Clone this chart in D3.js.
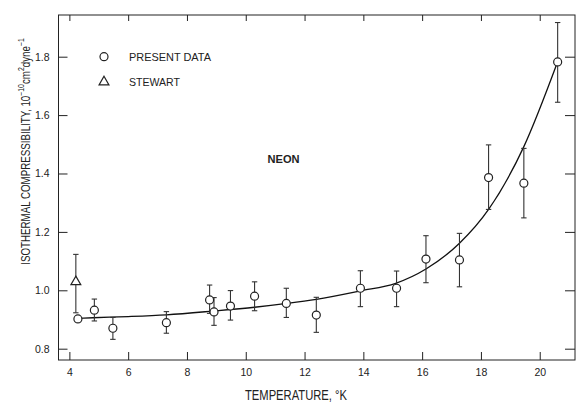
<!DOCTYPE html>
<html>
<head>
<meta charset="utf-8">
<script src="https://cdn.jsdelivr.net/npm/d3@7"></script>
<style>
  body { margin: 0; background: #fff; }
  svg { display: block; font-family: "Liberation Sans", Arial, sans-serif; }
  .axis text { font-size: 10.5px; fill: #222; }
  .axis line { stroke: #222; stroke-width: 1; }
</style>
</head>
<body>
<svg></svg>
<script>
// present data
let temps = [4.29, 4.85, 5.48, 7.30, 8.77, 8.92, 9.48, 10.30, 11.38, 12.40, 13.90, 15.13, 16.13, 17.27, 18.26, 19.46, 20.61];
let comp = [0.902, 0.932, 0.870, 0.889, 0.967, 0.926, 0.946, 0.980, 0.955, 0.915, 1.007, 1.007, 1.107, 1.104, 1.386, 1.367, 1.782];
let errLow = [null, 0.895, 0.832, 0.853, 0.921, 0.880, 0.898, 0.930, 0.907, 0.856, 0.944, 0.944, 1.026, 1.012, 1.277, 1.248, 1.644];
let errHigh = [null, 0.970, 0.907, 0.927, 1.018, 0.975, 0.999, 1.029, 1.007, 0.976, 1.067, 1.066, 1.187, 1.195, 1.498, 1.486, 1.917];

// stewart point
let stewartT = [4.22];
let stewartK = [1.029];
let stewartLow = [0.923];
let stewartHigh = [1.123];

// smooth curve through the data
let curveT = [4.29, 4.8, 6.0, 7.3, 8.9, 10.3, 11.4, 12.4, 13.9, 15.1, 16.13, 17.27, 18.26, 19.46, 20.6];
let curveK = [0.904, 0.906, 0.910, 0.916, 0.929, 0.942, 0.955, 0.969, 0.998, 1.024, 1.073, 1.161, 1.277, 1.492, 1.780];

let xTicks = [4, 6, 8, 10, 12, 14, 16, 18, 20];
let yTicks = [0.8, 1.0, 1.2, 1.4, 1.6, 1.8];

let config = { 'svg': {}, 'plot': {} };
config.svg.width = 576;
config.svg.height = 402;
config.plot.left = 58.5;
config.plot.right = 575;
config.plot.top = 15;
config.plot.bottom = 360;

let svg = d3.select('body').select('svg')
  .attr('width', config.svg.width)
  .attr('height', config.svg.height);

let x = d3.scaleLinear().domain([3.63, 21.2]).range([config.plot.left, config.plot.right]);
let y = d3.scaleLinear().domain([0.7613, 1.9428]).range([config.plot.bottom, config.plot.top]);

// axes, ticks pointing inward
let gx = svg.append('g').attr('class', 'axis')
  .attr('transform', translate(0, config.plot.bottom))
  .call(d3.axisBottom(x).tickValues(xTicks).tickSize(-8).tickPadding(8.5).tickFormat(d3.format('d')));
let gxTop = svg.append('g').attr('class', 'axis')
  .attr('transform', translate(0, config.plot.top))
  .call(d3.axisTop(x).tickValues(xTicks).tickSize(-6).tickFormat(''));
let gy = svg.append('g').attr('class', 'axis')
  .attr('transform', translate(config.plot.left, 0))
  .call(d3.axisLeft(y).tickValues(yTicks).tickSize(-9).tickPadding(9).tickFormat(d3.format('.1f')));
let gyRight = svg.append('g').attr('class', 'axis')
  .attr('transform', translate(config.plot.right, 0))
  .call(d3.axisRight(y).tickValues(yTicks).tickSize(-10).tickFormat(''));
svg.selectAll('.axis .domain').remove();

// frame
svg.append('rect')
  .attr('x', config.plot.left)
  .attr('y', config.plot.top)
  .attr('width', config.plot.right - config.plot.left)
  .attr('height', config.plot.bottom - config.plot.top)
  .attr('fill', 'none')
  .attr('stroke', '#222')
  .attr('stroke-width', 1);

// fitted curve
let curveData = curveT.map((t, i) => [t, curveK[i]]);
svg.append('path')
  .datum(curveData)
  .attr('fill', 'none')
  .attr('stroke', '#111')
  .attr('stroke-width', 1.3)
  .attr('d', d3.line()
    .x(d => x(d[0]))
    .y(d => y(d[1]))
    .curve(d3.curveMonotoneX));

// error bars
function drawErr(g, t, lo, hi) {
  g.append('line').attr('x1', x(t)).attr('x2', x(t)).attr('y1', y(lo)).attr('y2', y(hi));
  g.append('line').attr('x1', x(t) - 2.7).attr('x2', x(t) + 2.7).attr('y1', y(lo)).attr('y2', y(lo));
  g.append('line').attr('x1', x(t) - 2.7).attr('x2', x(t) + 2.7).attr('y1', y(hi)).attr('y2', y(hi));
}
let gErr = svg.append('g').attr('stroke', '#333').attr('stroke-width', 1.1);
temps.forEach(function(t, i) {
  if (errLow[i] != null) drawErr(gErr, t, errLow[i], errHigh[i]);
});
stewartT.forEach(function(t, i) {
  drawErr(gErr, t, stewartLow[i], stewartHigh[i]);
});

// present data circles
svg.append('g')
  .selectAll('circle')
  .data(temps)
  .enter()
  .append('circle')
    .attr('cx', d => x(d))
    .attr('cy', (d, i) => y(comp[i]))
    .attr('r', 4)
    .attr('fill', '#fff')
    .attr('stroke', '#222')
    .attr('stroke-width', 1.2);

// stewart triangle
let tri = d3.symbol(d3.symbolTriangle, 42);
svg.append('g')
  .selectAll('path')
  .data(stewartT)
  .enter()
  .append('path')
    .attr('d', tri)
    .attr('transform', (d, i) => translate(x(d), y(stewartK[i])))
    .attr('fill', '#fff')
    .attr('stroke', '#222')
    .attr('stroke-width', 1.2);

// legend
svg.append('circle').attr('cx', 104).attr('cy', 56.7).attr('r', 4)
  .attr('fill', '#fff').attr('stroke', '#222').attr('stroke-width', 1.2);
svg.append('path').attr('d', tri).attr('transform', translate(104, 82))
  .attr('fill', '#fff').attr('stroke', '#222').attr('stroke-width', 1.2);
svg.append('text').attr('x', 129).attr('y', 61).attr('font-size', 11.5)
  .attr('textLength', 82).attr('lengthAdjust', 'spacingAndGlyphs').attr('fill', '#222')
  .text('PRESENT DATA');
svg.append('text').attr('x', 129).attr('y', 86).attr('font-size', 11.5)
  .attr('textLength', 51).attr('lengthAdjust', 'spacingAndGlyphs').attr('fill', '#222')
  .text('STEWART');

// label inside plot
svg.append('text').attr('x', 267.5).attr('y', 162.5).attr('font-size', 11)
  .attr('font-weight', 'bold').attr('textLength', 32).attr('lengthAdjust', 'spacingAndGlyphs')
  .attr('fill', '#222').text('NEON');

// x label
svg.append('text').attr('x', 245).attr('y', 399.5).attr('font-size', 14.5)
  .attr('textLength', 102).attr('lengthAdjust', 'spacingAndGlyphs').attr('fill', '#222')
  .text('TEMPERATURE, °K');

// y label with superscripts, squeezed to the length it has in the figure
let ylab = svg.append('text')
  .attr('font-size', 12)
  .attr('fill', '#222')
  .attr('text-anchor', 'middle');
ylab.append('tspan').text('ISOTHERMAL  COMPRESSIBILITY, 10');
ylab.append('tspan').attr('dy', -6).attr('font-size', 8.5).text('\u221210');
ylab.append('tspan').attr('dy', 6).text('cm');
ylab.append('tspan').attr('dy', -6).attr('font-size', 8.5).text('2');
ylab.append('tspan').attr('dy', 6).text('dyne');
ylab.append('tspan').attr('dy', -6).attr('font-size', 8.5).text('\u22121');
let ylen = ylab.node().getComputedTextLength();
let ys = 227 / ylen;
ylab.attr('transform', translate(30, 151.5) + ' rotate(-90) scale(' + ys + ',1)');

function translate(x, y) {
  return 'translate(' + x + ',' + y + ')';
}
</script>
</body>
</html>
